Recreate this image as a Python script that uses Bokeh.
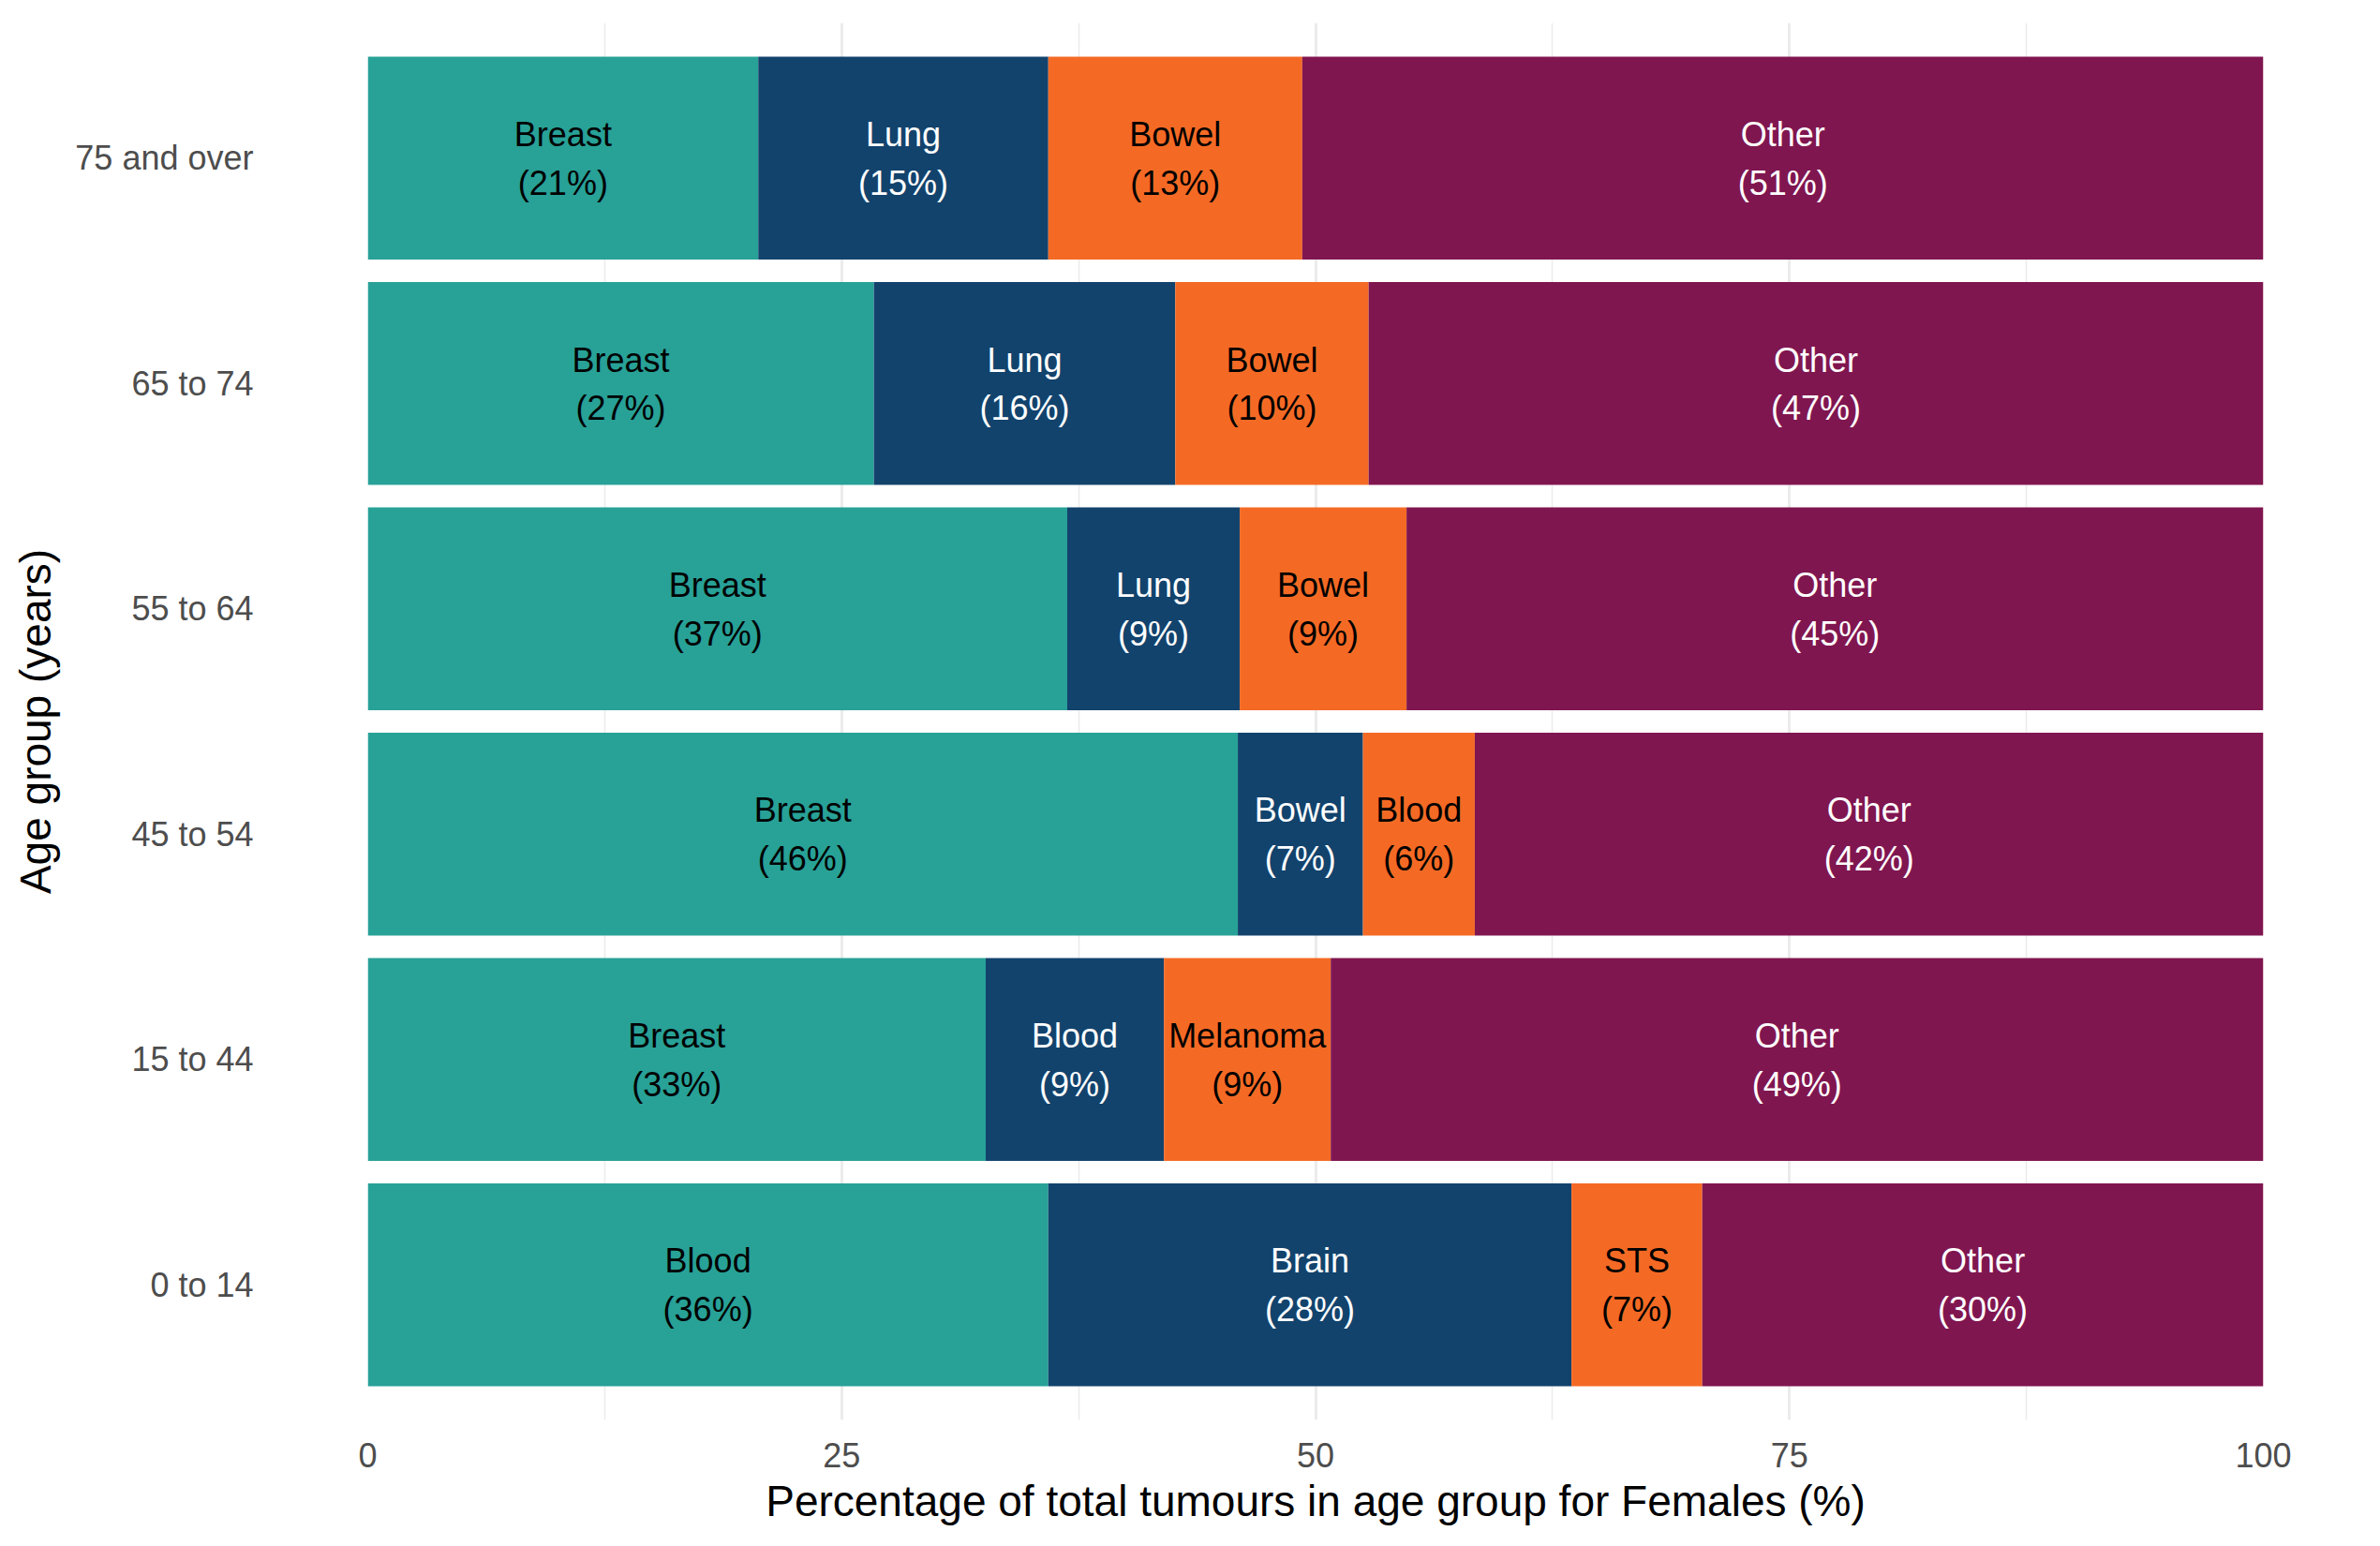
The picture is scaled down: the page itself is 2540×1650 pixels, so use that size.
from bokeh.plotting import figure
from bokeh.models import FactorRange, FixedTicker, ColumnDataSource, Range1d
from bokeh.transform import dodge
from bokeh.core.properties import value
from bokeh.embed import file_html
from bokeh.resources import INLINE
import numpy as np

# ---- data ----
age_groups = ["0 to 14", "15 to 44", "45 to 54", "55 to 64", "65 to 74", "75 and over"]

site_1 = ["Blood", "Breast", "Breast", "Breast", "Breast", "Breast"]
site_2 = ["Brain", "Blood", "Bowel", "Lung", "Lung", "Lung"]
site_3 = ["STS", "Melanoma", "Blood", "Bowel", "Bowel", "Bowel"]
site_4 = ["Other", "Other", "Other", "Other", "Other", "Other"]

pct_1 = [35.9, 32.6, 45.9, 36.9, 26.7, 20.6]
pct_2 = [27.6, 9.4, 6.6, 9.1, 15.9, 15.3]
pct_3 = [6.9, 8.8, 5.9, 8.8, 10.2, 13.4]
pct_4 = [29.6, 49.2, 41.6, 45.2, 47.2, 50.7]

x_ticks = [0, 25, 50, 75, 100]
x_minor_ticks = [12.5, 37.5, 62.5, 87.5]

fill_colors = ["#28A197", "#12436D", "#F46A25", "#801650"]
text_colors = ["#000000", "#FFFFFF", "#000000", "#FFFFFF"]

FONT = "Liberation Sans"

p = figure(
    width=2532, height=1642,
    y_range=FactorRange(*age_groups, range_padding=0.1, range_padding_units="absolute"),
    x_range=Range1d(0, 100),
    output_backend="svg", toolbar_location=None,
    min_border_left=392, min_border_right=117, min_border_top=24, min_border_bottom=127,
)
p.outline_line_color = None
p.background_fill_color = "white"
p.border_fill_color = "white"

sites = [site_1, site_2, site_3, site_4]
pcts = [pct_1, pct_2, pct_3, pct_4]
left = np.zeros(len(age_groups))
for i in range(4):
    vals = np.array(pcts[i], dtype=float)
    right = left + vals
    src = ColumnDataSource(dict(
        age=age_groups,
        left=left.copy(),
        right=right.copy(),
        mid=(left + right) / 2,
        name=sites[i],
        lab=[f"({int(round(v))}%)" for v in pcts[i]],
    ))
    p.hbar(y="age", left="left", right="right", height=0.9, source=src,
           fill_color=fill_colors[i], line_color=None)
    p.text(x="mid", y=dodge("age", 0.105, range=p.y_range), text="name", source=src,
           text_font=value(FONT), text_font_size="36px", text_color=text_colors[i],
           text_align="center", text_baseline="middle")
    p.text(x="mid", y=dodge("age", -0.111, range=p.y_range), text="lab", source=src,
           text_font=value(FONT), text_font_size="36px", text_color=text_colors[i],
           text_align="center", text_baseline="middle")
    left = right

# grids
p.xgrid.ticker = FixedTicker(ticks=x_ticks, minor_ticks=x_minor_ticks)
p.xgrid.grid_line_color = "#EBEBEB"
p.xgrid.grid_line_width = 3
p.xgrid.minor_grid_line_color = "#EBEBEB"
p.xgrid.minor_grid_line_width = 1.5
p.ygrid.grid_line_color = None

# axes
p.xaxis.ticker = FixedTicker(ticks=x_ticks)
for ax in (p.xaxis[0], p.yaxis[0]):
    ax.axis_line_color = None
    ax.major_tick_line_color = None
    ax.minor_tick_line_color = None
    ax.major_tick_in = 0
    ax.major_tick_out = 0
    ax.major_label_text_font = FONT
    ax.major_label_text_font_size = "36px"
    ax.major_label_text_color = "#4D4D4D"
    ax.axis_label_text_font = FONT
    ax.axis_label_text_font_size = "46px"
    ax.axis_label_text_font_style = "normal"
    ax.axis_label_text_color = "#000000"

p.xaxis.axis_label = "Percentage of total tumours in age group for Females (%)"
p.xaxis.major_label_standoff = 24
p.xaxis.axis_label_standoff = 7
p.yaxis.axis_label = "Age group (years)"
p.yaxis.major_label_standoff = 122
p.yaxis.axis_label_standoff = 13

open("out.html", "w").write(file_html(p, INLINE))
